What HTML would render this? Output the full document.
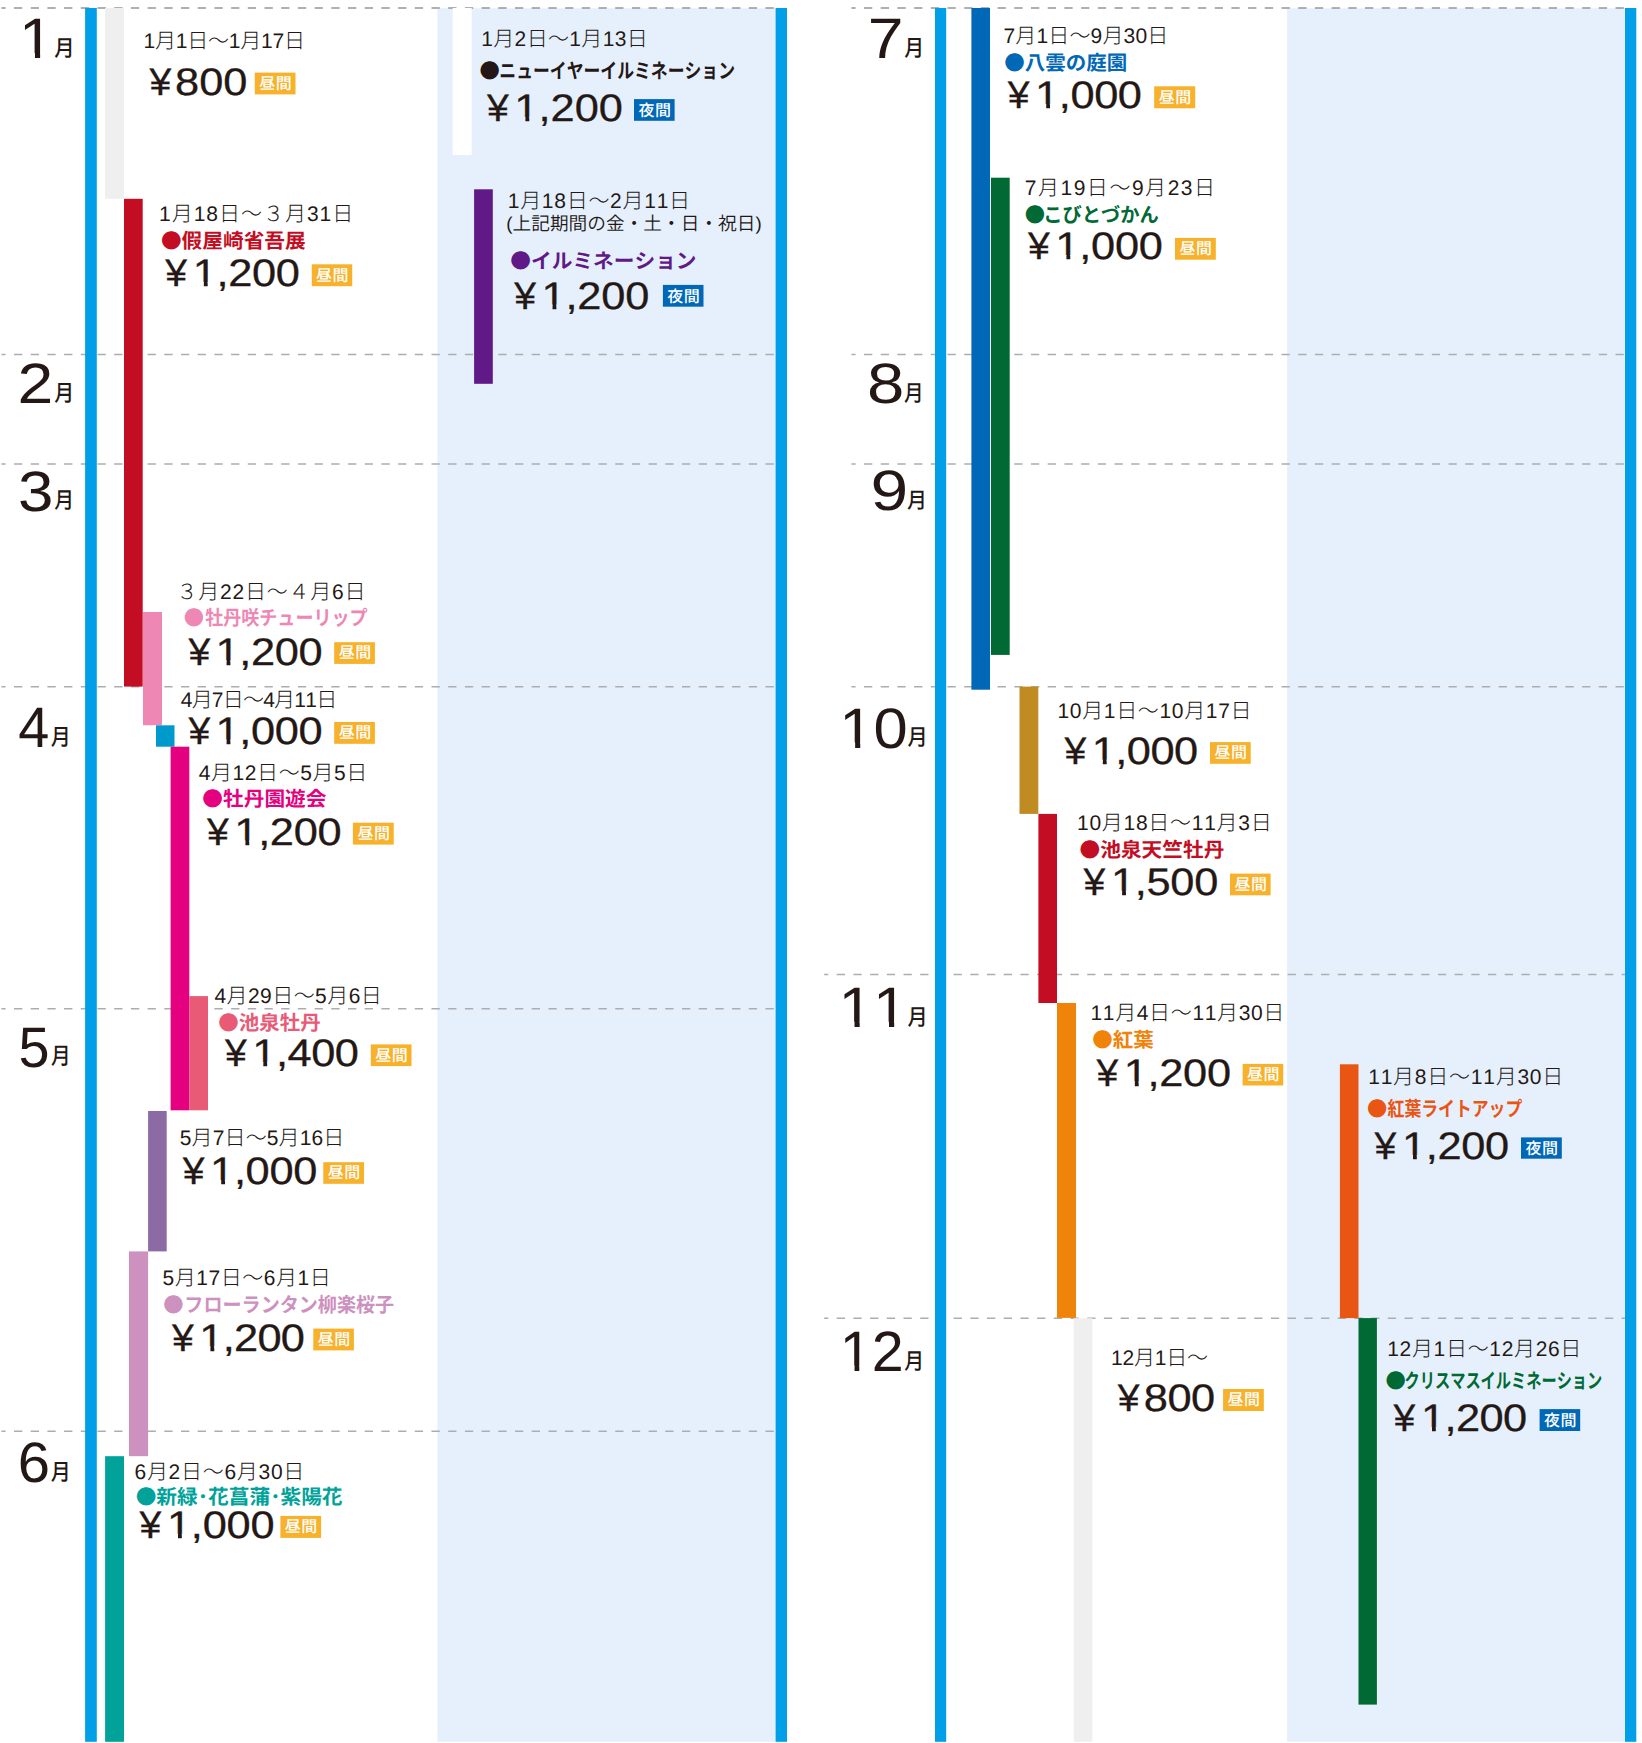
<!DOCTYPE html>
<html lang="ja">
<head>
<meta charset="utf-8">
<title>入園料カレンダー</title>
<style>
html,body{margin:0;padding:0;background:#fff;}
body{width:1642px;height:1743px;overflow:hidden;}
svg{display:block;}
text{font-family:"Liberation Sans", "Noto Sans CJK JP", sans-serif;fill:#231815;text-rendering:geometricPrecision;font-kerning:none;}
.dl{stroke:#adadad;stroke-width:1.5;stroke-dasharray:8.3 8.4;stroke-dashoffset:4.1;}
.dt0{stroke:#979797;stroke-width:1.5;}
.mn{font-size:56.9px;}
.mk{font-weight:500;}
.dt{font-size:21px;font-weight:300;}
.pn{font-size:18.5px;font-weight:350;}
.nm{font-size:20.3px;font-weight:700;}
.bl{font-family:"Noto Sans CJK JP",sans-serif;}
.pr{font-size:38.4px;stroke:#231815;stroke-width:0.3px;}
.bd{font-size:16px;font-weight:500;fill:#fff;letter-spacing:0.5px;}

</style>
</head>
<body>
<svg width="1642" height="1743" viewBox="0 0 1642 1743">
<rect x="437.4" y="8.2" width="338.2" height="1733.6" fill="#e6f0fc"/>
<rect x="1287.1" y="8.2" width="337.9" height="1733.6" fill="#e6f0fc"/>
<line class="dl dt0" x1="1.4" x2="776" y1="7.9" y2="7.9"/>
<line class="dl" x1="1.4" x2="776" y1="354.5" y2="354.5"/>
<line class="dl" x1="1.4" x2="776" y1="464.1" y2="464.1"/>
<line class="dl" x1="1.4" x2="776" y1="686.8" y2="686.8"/>
<line class="dl" x1="1.4" x2="776" y1="1008.8" y2="1008.8"/>
<line class="dl" x1="1.4" x2="776" y1="1431.2" y2="1431.2"/>
<line class="dl dt0" x1="851.4" x2="1625" y1="7.9" y2="7.9"/>
<line class="dl" x1="851.4" x2="1625" y1="354.5" y2="354.5"/>
<line class="dl" x1="851.4" x2="1625" y1="464.1" y2="464.1"/>
<line class="dl" x1="851.4" x2="1625" y1="686.8" y2="686.8"/>
<line class="dl" x1="824.1" x2="1625" y1="974.4" y2="974.4"/>
<line class="dl" x1="824.1" x2="1625" y1="1318.2" y2="1318.2"/>
<rect x="105" y="8" width="19" height="190.8" fill="#efefef"/>
<rect x="124" y="198.8" width="18.7" height="487.8" fill="#c30d23"/>
<rect x="143" y="612" width="19" height="113.2" fill="#ee87b4"/>
<rect x="156" y="725.3" width="18.5" height="21.4" fill="#0099cc"/>
<rect x="170.6" y="746.7" width="18.7" height="363.6" fill="#e4007f"/>
<rect x="189.3" y="996.1" width="18.7" height="114.2" fill="#e95a77"/>
<rect x="148.1" y="1111" width="18.6" height="140.4" fill="#8c6aa3"/>
<rect x="129" y="1251.4" width="19.1" height="204.8" fill="#cd91c0"/>
<rect x="105.1" y="1456.2" width="18.9" height="285.6" fill="#00a29a"/>
<rect x="452.7" y="8" width="19" height="147" fill="#ffffff"/>
<rect x="474.1" y="189.3" width="18.7" height="194.5" fill="#601986"/>
<rect x="971.4" y="8" width="18.6" height="681.7" fill="#0068b7"/>
<rect x="991" y="177.7" width="18.7" height="477.2" fill="#006934"/>
<rect x="1019.5" y="686.6" width="18.8" height="127.3" fill="#c18b23"/>
<rect x="1038.4" y="813.9" width="18.6" height="189.1" fill="#c30d23"/>
<rect x="1057" y="1003" width="19" height="314.9" fill="#f08309"/>
<rect x="1073.8" y="1318.2" width="18.6" height="423.6" fill="#efefef"/>
<rect x="1339.9" y="1064.3" width="18.6" height="253.8" fill="#e95513"/>
<rect x="1358.5" y="1318.1" width="18.4" height="386.5" fill="#006934"/>
<rect x="85.1" y="8" width="11.7" height="1733.8" fill="#009fe8"/>
<rect x="775.6" y="8" width="11.4" height="1733.8" fill="#009fe8"/>
<rect x="935" y="8" width="11.2" height="1733.8" fill="#009fe8"/>
<rect x="1625" y="8" width="11.3" height="1733.8" fill="#009fe8"/>
<clipPath id="cmn1"><rect x="8.95" y="-1.75" width="146.45" height="54.7"/><rect x="34.95" y="51.95" width="5.18" height="9.3"/></clipPath><g clip-path="url(#cmn1)"><text class="mn" transform="translate(18.95 58.25) scale(1.09 1)">1</text></g>
<text class="mk" font-size="22.52" transform="translate(54.25 56.25) scale(0.9 1)">月</text>
<text class="mn" transform="translate(17.5 403) scale(1.13 1)">2</text>
<text class="mk" font-size="22.79" transform="translate(54.25 401) scale(0.87 1)">月</text>
<text class="mn" transform="translate(18 510.75) scale(1.12 1)">3</text>
<text class="mk" font-size="22.22" transform="translate(54.25 508) scale(0.89 1)">月</text>
<text class="mn" transform="translate(18.25 746.5) scale(0.98 1)">4</text>
<text class="mk" font-size="22.66" transform="translate(50.75 744.5) scale(0.88 1)">月</text>
<text class="mn" transform="translate(18.45 1066.6) scale(0.98 1)">5</text>
<text class="mk" font-size="23.09" transform="translate(51 1064.25) scale(0.85 1)">月</text>
<text class="mn" transform="translate(17.75 1482) scale(1.02 1)">6</text>
<text class="mk" font-size="22.66" transform="translate(50.75 1479.75) scale(0.88 1)">月</text>
<text class="mn" transform="translate(867.75 58.25) scale(1.13 1)">7</text>
<text class="mk" font-size="22.7" transform="translate(904.25 56) scale(0.87 1)">月</text>
<text class="mn" transform="translate(867 403.25) scale(1.18 1)">8</text>
<text class="mk" font-size="22.53" transform="translate(904 400.75) scale(0.87 1)">月</text>
<text class="mn" transform="translate(870.5 510.25) scale(1.19 1)">9</text>
<text class="mk" font-size="21.58" transform="translate(907.12 507.51) scale(0.92 1)">月</text>
<clipPath id="cmn10"><rect x="829.31" y="687.57" width="144.98" height="54.7"/><rect x="855.14" y="741.27" width="5.12" height="9.3"/><rect x="874.67" y="741.27" width="35.59" height="10.3"/></clipPath><g clip-path="url(#cmn10)"><text class="mn" transform="translate(839.31 747.57) scale(1.08 1)">10</text></g>
<text class="mk" font-size="22.35" transform="translate(907.5 744.75) scale(0.9 1)">月</text>
<clipPath id="cmn11"><rect x="828.5" y="967.1" width="146.45" height="54.7"/><rect x="854.51" y="1020.8" width="5.18" height="9.3"/><rect x="889" y="1020.8" width="5.18" height="9.3"/></clipPath><g clip-path="url(#cmn11)"><text class="mn" transform="translate(838.5 1027.1) scale(1.09 1)">11</text></g>
<text class="mk" font-size="22.35" transform="translate(907.5 1025) scale(0.9 1)">月</text>
<clipPath id="cmn12"><rect x="829.73" y="1310.71" width="136.16" height="54.7"/><rect x="854.52" y="1364.41" width="4.79" height="9.3"/><rect x="872.77" y="1364.41" width="33.26" height="10.3"/></clipPath><g clip-path="url(#cmn12)"><text class="mn" transform="translate(839.73 1370.71) scale(1.01 1)">12</text></g>
<text class="mk" font-size="22.22" transform="translate(904.25 1368.75) scale(0.89 1)">月</text>
<text class="dt" x="143.5" y="47.8" letter-spacing="-0.22">1月1日〜1月17日</text>
<text class="pr" transform="translate(149.46 94.5) scale(1.02 1)">¥</text>
<text class="pr" letter-spacing="0" transform="translate(175.1 94.5) scale(1.13 1)">800</text>
<rect x="254.8" y="72.6" width="40.7" height="21.8" fill="#f7b12a"/>
<text class="bd" x="275.82" y="89.05" text-anchor="middle">昼間</text>
<text class="dt" x="159" y="220.8" letter-spacing="0.98">1月18日〜３月31日</text>
<text class="nm" style="fill:#c30d23" transform="translate(160.9 247.9) scale(1.02 1)"><tspan class="bl">●</tspan>假屋崎省吾展</text>
<text class="pr" transform="translate(165.32 286.3) scale(1.02 1)">¥</text>
<clipPath id="cpdB"><rect x="182.73" y="241.3" width="160" height="40.8"/><rect x="203.82" y="281.1" width="3.82" height="8.2"/><rect x="217.98" y="281.1" width="124.74" height="17.2"/></clipPath><g clip-path="url(#cpdB)"><text class="pr" letter-spacing="-0.33" transform="translate(192.73 286.3) scale(1.13 1)">1,200</text></g>
<rect x="311.8" y="264.3" width="40.4" height="21.9" fill="#f7b12a"/>
<text class="bd" x="332.62" y="280.6" text-anchor="middle">昼間</text>
<text class="dt" x="176.5" y="599.2" letter-spacing="0.78">３月22日〜４月6日</text>
<text class="nm" style="fill:#ee87b4" transform="translate(205.13 625.16) scale(0.89 1)">牡丹咲チューリップ</text>
<text class="nm bl" style="fill:#ee87b4" x="183.7" y="625.16">●</text>
<text class="pr" transform="translate(188.45 664.5) scale(1.02 1)">¥</text>
<clipPath id="cpdC"><rect x="205.49" y="619.5" width="160" height="40.8"/><rect x="226.58" y="659.3" width="3.82" height="8.2"/><rect x="240.8" y="659.3" width="124.69" height="17.2"/></clipPath><g clip-path="url(#cpdC)"><text class="pr" letter-spacing="-0.29" transform="translate(215.49 664.5) scale(1.13 1)">1,200</text></g>
<rect x="334.2" y="642.2" width="40.7" height="21.7" fill="#f7b12a"/>
<text class="bd" x="355.27" y="658.4" text-anchor="middle">昼間</text>
<text class="dt" x="180.75" y="707" letter-spacing="-0.78">4月7日〜4月11日</text>
<text class="pr" transform="translate(188.45 743.6) scale(1.02 1)">¥</text>
<clipPath id="cpdD"><rect x="205.49" y="698.6" width="160" height="40.8"/><rect x="226.58" y="738.4" width="3.82" height="8.2"/><rect x="240.8" y="738.4" width="124.69" height="17.2"/></clipPath><g clip-path="url(#cpdD)"><text class="pr" letter-spacing="-0.29" transform="translate(215.49 743.6) scale(1.13 1)">1,000</text></g>
<rect x="334.2" y="722" width="40.7" height="21.8" fill="#f7b12a"/>
<text class="bd" x="355.27" y="738.25" text-anchor="middle">昼間</text>
<text class="dt" x="198.75" y="779.6" letter-spacing="0.57">4月12日〜5月5日</text>
<text class="nm" style="fill:#e4007f" transform="translate(202.3 806.1) scale(1.02 1)"><tspan class="bl">●</tspan>牡丹園遊会</text>
<text class="pr" transform="translate(207.03 844.8) scale(1.02 1)">¥</text>
<clipPath id="cpdE"><rect x="224.36" y="799.8" width="160" height="40.8"/><rect x="245.46" y="839.6" width="3.82" height="8.2"/><rect x="259.66" y="839.6" width="124.7" height="17.2"/></clipPath><g clip-path="url(#cpdE)"><text class="pr" letter-spacing="-0.3" transform="translate(234.36 844.8) scale(1.13 1)">1,200</text></g>
<rect x="352.9" y="822.7" width="40.8" height="21.9" fill="#f7b12a"/>
<text class="bd" x="374.02" y="839.05" text-anchor="middle">昼間</text>
<text class="dt" x="214.47" y="1003.4" letter-spacing="0.43">4月29日〜5月6日</text>
<text class="nm" style="fill:#e95a77" transform="translate(218.3 1029.95) scale(1.01 1)"><tspan class="bl">●</tspan>池泉牡丹</text>
<text class="pr" transform="translate(224.91 1066.3) scale(1.02 1)">¥</text>
<clipPath id="cpdF"><rect x="242.26" y="1021.3" width="160" height="40.8"/><rect x="263.35" y="1061.1" width="3.82" height="8.2"/><rect x="277.43" y="1061.1" width="124.83" height="17.2"/></clipPath><g clip-path="url(#cpdF)"><text class="pr" letter-spacing="-0.41" transform="translate(252.26 1066.3) scale(1.13 1)">1,400</text></g>
<rect x="370.8" y="1044.4" width="40.7" height="21.7" fill="#f7b12a"/>
<text class="bd" x="391.82" y="1060.75" text-anchor="middle">昼間</text>
<text class="dt" x="179.75" y="1145.4" letter-spacing="0.13">5月7日〜5月16日</text>
<text class="pr" transform="translate(182.74 1184.1) scale(1.02 1)">¥</text>
<clipPath id="cpdG"><rect x="200.12" y="1139.1" width="160" height="40.8"/><rect x="221.22" y="1178.9" width="3.82" height="8.2"/><rect x="235.4" y="1178.9" width="124.72" height="17.2"/></clipPath><g clip-path="url(#cpdG)"><text class="pr" letter-spacing="-0.31" transform="translate(210.12 1184.1) scale(1.13 1)">1,000</text></g>
<rect x="323.3" y="1162.2" width="40.7" height="21.6" fill="#f7b12a"/>
<text class="bd" x="344.32" y="1178.45" text-anchor="middle">昼間</text>
<text class="dt" x="162.5" y="1285.3" letter-spacing="0.55">5月17日〜6月1日</text>
<text class="nm" style="fill:#cd91c0" transform="translate(184.37 1311.67) scale(0.94 1)">フローランタン柳楽桜子</text>
<text class="nm bl" style="fill:#cd91c0" x="163.2" y="1311.67">●</text>
<text class="pr" transform="translate(172.1 1350.5) scale(1.02 1)">¥</text>
<clipPath id="cpdH"><rect x="189.36" y="1305.5" width="160" height="40.8"/><rect x="210.46" y="1345.3" width="3.82" height="8.2"/><rect x="224.26" y="1345.3" width="125.11" height="17.2"/></clipPath><g clip-path="url(#cpdH)"><text class="pr" letter-spacing="-0.66" transform="translate(199.36 1350.5) scale(1.13 1)">1,200</text></g>
<rect x="313.3" y="1328.6" width="40.6" height="21.8" fill="#f7b12a"/>
<text class="bd" x="334.18" y="1345.05" text-anchor="middle">昼間</text>
<text class="dt" x="134.5" y="1478.8" letter-spacing="0.71">6月2日〜6月30日</text>
<text class="nm" style="fill:#00a29a" transform="translate(135.65 1503.67) scale(1.02 1)"><tspan class="bl">●</tspan>新緑･花菖蒲･紫陽花</text>
<text class="pr" transform="translate(139.52 1537.9) scale(1.02 1)">¥</text>
<clipPath id="cpdI"><rect x="156.88" y="1492.9" width="160" height="40.8"/><rect x="177.98" y="1532.7" width="3.82" height="8.2"/><rect x="192.33" y="1532.7" width="124.55" height="17.2"/></clipPath><g clip-path="url(#cpdI)"><text class="pr" letter-spacing="-0.17" transform="translate(166.88 1537.9) scale(1.13 1)">1,000</text></g>
<rect x="280.4" y="1515.9" width="40.7" height="22" fill="#f7b12a"/>
<text class="bd" x="301.38" y="1532.35" text-anchor="middle">昼間</text>
<text class="dt" x="481.25" y="46" letter-spacing="0.34">1月2日〜1月13日</text>
<text class="nm" style="fill:#231815" transform="translate(499.37 77.82) scale(0.83 1)">ニューイヤーイルミネーション</text>
<text class="nm bl" style="fill:#231815" x="479.6" y="77.82">●</text>
<text class="pr" transform="translate(486.98 121.2) scale(1.02 1)">¥</text>
<clipPath id="cpdJ"><rect x="504.36" y="76.2" width="160" height="40.8"/><rect x="525.46" y="116" width="3.82" height="8.2"/><rect x="540.01" y="116" width="124.35" height="17.2"/></clipPath><g clip-path="url(#cpdJ)"><text class="pr" letter-spacing="0.01" transform="translate(514.36 121.2) scale(1.13 1)">1,200</text></g>
<rect x="634" y="99.1" width="40.6" height="21.7" fill="#0068b7"/>
<text class="bd" x="654.9" y="115.85" text-anchor="middle">夜間</text>
<text class="dt" x="507.75" y="207.9" letter-spacing="0.72">1月18日〜2月11日</text>
<text class="nm" style="fill:#601986" transform="translate(510.35 268.05) scale(1.02 1)"><tspan class="bl">●</tspan>イルミネーション</text>
<text class="pr" transform="translate(514.28 308.7) scale(1.02 1)">¥</text>
<clipPath id="cpdK"><rect x="531.45" y="263.7" width="160" height="40.8"/><rect x="552.54" y="303.5" width="3.82" height="8.2"/><rect x="566.95" y="303.5" width="124.5" height="17.2"/></clipPath><g clip-path="url(#cpdK)"><text class="pr" letter-spacing="-0.12" transform="translate(541.45 308.7) scale(1.13 1)">1,200</text></g>
<rect x="662.9" y="284.9" width="40.6" height="21.8" fill="#0068b7"/>
<text class="bd" x="683.85" y="301.7" text-anchor="middle">夜間</text>
<text class="dt" x="1003.5" y="43.3" letter-spacing="0.15">7月1日〜9月30日</text>
<text class="nm" style="fill:#0068b7" transform="translate(1004.2 69.92) scale(1.01 1)"><tspan class="bl">●</tspan>八雲の庭園</text>
<text class="pr" transform="translate(1007.74 108.1) scale(1.02 1)">¥</text>
<clipPath id="cpdL"><rect x="1025.12" y="63.1" width="160" height="40.8"/><rect x="1046.22" y="102.9" width="3.82" height="8.2"/><rect x="1060.33" y="102.9" width="124.8" height="17.2"/></clipPath><g clip-path="url(#cpdL)"><text class="pr" letter-spacing="-0.38" transform="translate(1035.12 108.1) scale(1.13 1)">1,000</text></g>
<rect x="1154.2" y="86.3" width="41" height="22" fill="#f7b12a"/>
<text class="bd" x="1175.35" y="102.8" text-anchor="middle">昼間</text>
<text class="dt" x="1024.75" y="195.2" letter-spacing="1.52">7月19日〜9月23日</text>
<text class="nm" style="fill:#006934" transform="translate(1043.26 221.8) scale(0.95 1)">こびとづかん</text>
<text class="nm bl" style="fill:#006934" x="1024.8" y="221.8">●</text>
<text class="pr" transform="translate(1027.98 259.2) scale(1.02 1)">¥</text>
<clipPath id="cpdM"><rect x="1045.36" y="214.2" width="160" height="40.8"/><rect x="1066.46" y="254" width="3.82" height="8.2"/><rect x="1080.76" y="254" width="124.6" height="17.2"/></clipPath><g clip-path="url(#cpdM)"><text class="pr" letter-spacing="-0.21" transform="translate(1055.36 259.2) scale(1.13 1)">1,000</text></g>
<rect x="1175" y="237.9" width="40.8" height="21.8" fill="#f7b12a"/>
<text class="bd" x="1196.08" y="254.2" text-anchor="middle">昼間</text>
<text class="dt" x="1057.5" y="717.7" letter-spacing="0.66">10月1日〜10月17日</text>
<text class="pr" transform="translate(1064.4 763.8) scale(1.02 1)">¥</text>
<clipPath id="cpdN"><rect x="1081.73" y="718.8" width="160" height="40.8"/><rect x="1102.82" y="758.6" width="3.82" height="8.2"/><rect x="1116.83" y="758.6" width="124.89" height="17.2"/></clipPath><g clip-path="url(#cpdN)"><text class="pr" letter-spacing="-0.47" transform="translate(1091.73 763.8) scale(1.13 1)">1,000</text></g>
<rect x="1210" y="742.1" width="40.7" height="21.7" fill="#f7b12a"/>
<text class="bd" x="1230.92" y="758.35" text-anchor="middle">昼間</text>
<text class="dt" x="1077" y="830.1" letter-spacing="0.72">10月18日〜11月3日</text>
<text class="nm" style="fill:#c30d23" transform="translate(1079.5 856.85) scale(1.02 1)"><tspan class="bl">●</tspan>池泉天竺牡丹</text>
<text class="pr" transform="translate(1083.61 895) scale(1.02 1)">¥</text>
<clipPath id="cpdO"><rect x="1101.05" y="850" width="160" height="40.8"/><rect x="1122.14" y="889.8" width="3.82" height="8.2"/><rect x="1136.34" y="889.8" width="124.7" height="17.2"/></clipPath><g clip-path="url(#cpdO)"><text class="pr" letter-spacing="-0.3" transform="translate(1111.05 895) scale(1.13 1)">1,500</text></g>
<rect x="1230" y="873.6" width="40.6" height="21.7" fill="#f7b12a"/>
<text class="bd" x="1251.02" y="889.85" text-anchor="middle">昼間</text>
<text class="dt" x="1090.5" y="1020.4" letter-spacing="0.64">11月4日〜11月30日</text>
<text class="nm" style="fill:#f08309" transform="translate(1092.25 1047.17) scale(1.01 1)"><tspan class="bl">●</tspan>紅葉</text>
<text class="pr" transform="translate(1096.46 1085.5) scale(1.02 1)">¥</text>
<clipPath id="cpdP"><rect x="1113.73" y="1040.5" width="160" height="40.8"/><rect x="1134.82" y="1080.3" width="3.82" height="8.2"/><rect x="1149.06" y="1080.3" width="124.67" height="17.2"/></clipPath><g clip-path="url(#cpdP)"><text class="pr" letter-spacing="-0.27" transform="translate(1123.73 1085.5) scale(1.13 1)">1,200</text></g>
<rect x="1242.6" y="1063.9" width="40.6" height="21.6" fill="#f7b12a"/>
<text class="bd" x="1263.58" y="1080.05" text-anchor="middle">昼間</text>
<text class="dt" x="1111" y="1364.5" letter-spacing="-0.19">12月1日〜</text>
<text class="pr" transform="translate(1117.77 1411) scale(1.02 1)">¥</text>
<text class="pr" letter-spacing="-0.45" transform="translate(1143.85 1411) scale(1.13 1)">800</text>
<rect x="1223.1" y="1389" width="40.7" height="22" fill="#f7b12a"/>
<text class="bd" x="1244.1" y="1405.4" text-anchor="middle">昼間</text>
<text class="dt" x="1368.25" y="1084.2" letter-spacing="0.75">11月8日〜11月30日</text>
<text class="nm" style="fill:#e95513" transform="translate(1387.58 1116.06) scale(0.83 1)">紅葉ライトアップ</text>
<text class="nm bl" style="fill:#e95513" x="1367" y="1116.06">●</text>
<text class="pr" transform="translate(1374.49 1159.3) scale(1.02 1)">¥</text>
<clipPath id="cpdR"><rect x="1391.88" y="1114.3" width="160" height="40.8"/><rect x="1412.97" y="1154.1" width="3.82" height="8.2"/><rect x="1427.19" y="1154.1" width="124.69" height="17.2"/></clipPath><g clip-path="url(#cpdR)"><text class="pr" letter-spacing="-0.29" transform="translate(1401.88 1159.3) scale(1.13 1)">1,200</text></g>
<rect x="1521" y="1137.4" width="40.8" height="21.3" fill="#0068b7"/>
<text class="bd" x="1541.95" y="1153.95" text-anchor="middle">夜間</text>
<text class="dt" x="1387.25" y="1355.6" letter-spacing="0.67">12月1日〜12月26日</text>
<text class="nm" style="fill:#006934" transform="translate(1404.55 1387.94) scale(0.75 1)">クリスマスイルミネーション</text>
<text class="nm bl" style="fill:#006934" x="1385.4" y="1387.94">●</text>
<text class="pr" transform="translate(1393.49 1431.3) scale(1.02 1)">¥</text>
<clipPath id="cpdS"><rect x="1410.88" y="1386.3" width="160" height="40.8"/><rect x="1431.97" y="1426.1" width="3.82" height="8.2"/><rect x="1445.94" y="1426.1" width="124.94" height="17.2"/></clipPath><g clip-path="url(#cpdS)"><text class="pr" letter-spacing="-0.51" transform="translate(1420.88 1431.3) scale(1.13 1)">1,200</text></g>
<rect x="1539.6" y="1409.1" width="40.6" height="21.9" fill="#0068b7"/>
<text class="bd" x="1560.45" y="1425.75" text-anchor="middle">夜間</text>
<text class="pn" transform="translate(506.33 229.85) scale(1.01 1)">(上記期間の金・土・日・祝日)</text>
</svg>
</body>
</html>
